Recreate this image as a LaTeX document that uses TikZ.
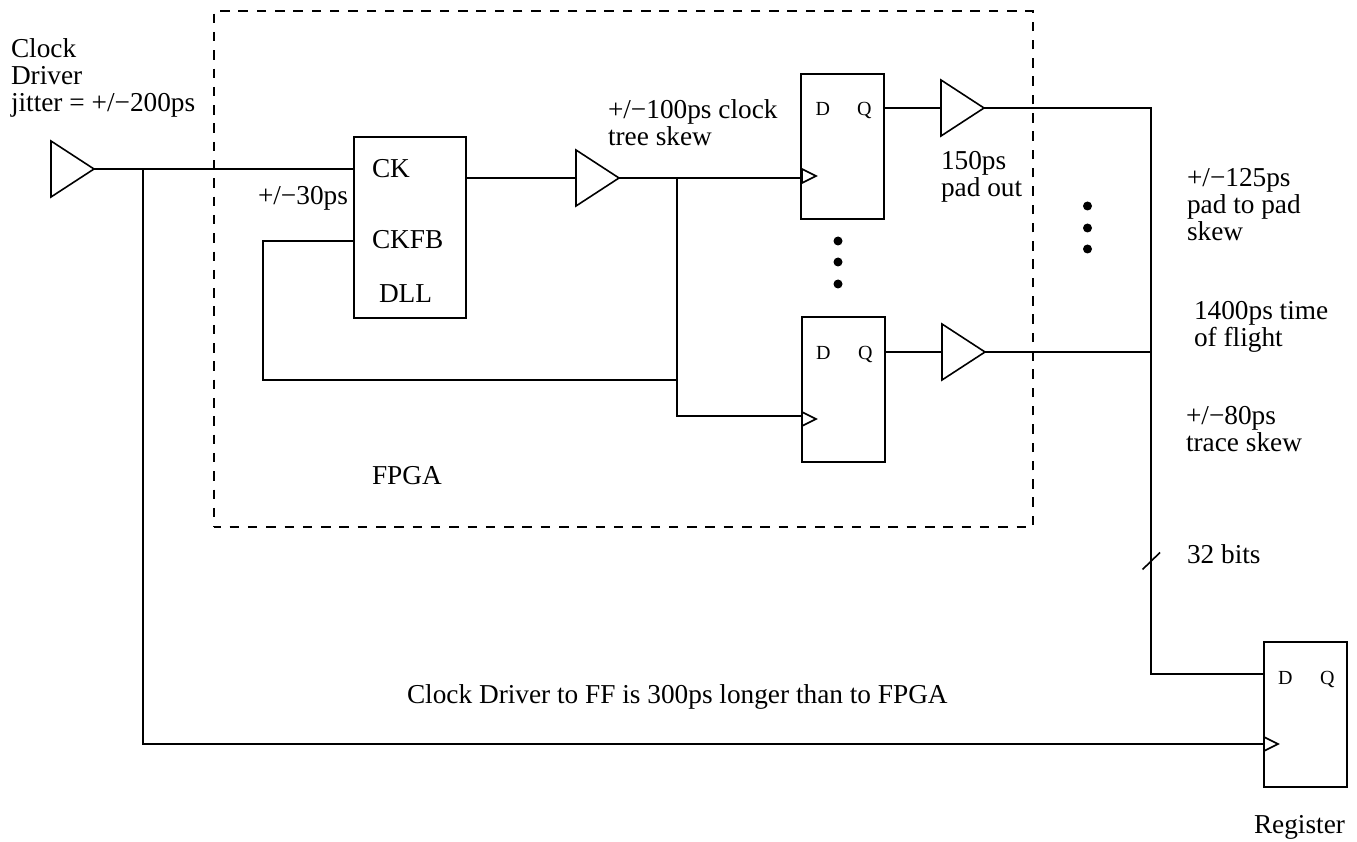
\documentclass[tikz,border=0pt]{standalone}
\usepackage{fontspec}
\setmainfont{Liberation Serif}
\usetikzlibrary{shapes.geometric,positioning}
\tikzset{
	x=1pt,
	y=-1pt,
	every node/.style={inner sep=0pt, outer sep=0pt},
	wire/.style={line width=1.6pt},
	block/.style={draw, rectangle, line width=1.6pt},
	flop/.style={block, minimum width=83pt, minimum height=145pt},
	buf/.style={draw, line width=1.6pt, isosceles triangle, isosceles triangle stretches, anchor=lower side,
		minimum width=56pt, minimum height=43pt},
	clkmark/.style={draw, line width=1.6pt, isosceles triangle, isosceles triangle stretches, anchor=lower side,
		minimum width=14pt, minimum height=14pt},
	dot/.style={circle, fill=black, minimum size=9pt},
	lbl/.style={anchor=base west, align=left, font=\fontsize{27.3}{27}\selectfont},
	pin/.style={anchor=base west, font=\fontsize{20}{20}\selectfont},
}
\begin{document}
\begin{tikzpicture}
      \useasboundingbox (0,0) rectangle (1357,842);

      % the chip outline goes first, the wires cross it
      \node[block, dash pattern=on 9.5pt off 8.8pt, dash phase=2.7pt, minimum width=819pt, minimum height=516pt] (fpga) at (623.5,269) {};

      \node[buf] (drv) at (51,169) {};
      \node[block, minimum width=112pt, minimum height=181pt] (dll) at (410,227.5) {};
      \node[buf] (tree) at (576,178) {};

      \node[flop] (ffa) at (842.5,146.5) {};
      \node[flop] (ffb) at (843.5,389.5) {};
      \node[flop] (reg) at (1305.5,714.5) {};
      \node[clkmark] (ffaclk) at (802,176) {};
      \node[clkmark] (ffbclk) at (802,419) {};
      \node[clkmark] (regclk) at (1264,744) {};

      \node[buf] (pada) at (941,108) {};
      \node[buf] (padb) at (942,352) {};

      \foreach \y [count=\i] in {241,262,284} {
        \node[dot] (fdot\i) at (838,\y) {};
      }
      \foreach \y [count=\i] in {206,228,249} {
        \node[dot] (pdot\i) at (1087.5,\y) {};
      }

      \coordinate (drvtap) at (143,169);
      \coordinate (fbin) at (354,241);
      \coordinate (fbcorner) at (263,380);
      \coordinate (treetap) at (677,178);
      \coordinate (ffbin) at (802,416);
      \coordinate (busa) at (1151,108);
      \coordinate (regd) at (1264,674);
      \coordinate (ticka) at (1142.5,569.5);
      \coordinate (tickb) at (1160,552.5);

      \draw[wire] (drv.apex) -- (drv.apex -| dll.west);
      \draw[wire] (drvtap) |- (regclk.lower side);
      \draw[wire] (tree.lower side -| dll.east) -- (tree.lower side);
      \draw[wire] (tree.apex) -- (tree.apex -| ffa.west);
      \draw[wire] (treetap) |- (ffbin);
      \draw[wire] (fbin) -| (fbcorner) -- (fbcorner -| treetap);
      \draw[wire] (pada.lower side -| ffa.east) -- (pada.lower side);
      \draw[wire] (padb.lower side -| ffb.east) -- (padb.lower side);
      \draw[wire] (pada.apex) -- (busa) |- (regd);
      \draw[wire] (padb.apex) -- (padb.apex -| busa);
      \draw[wire] (ticka) -- (tickb);

      \node[lbl] (drvtxt) at (11,112) {Clock\\Driver\\jitter = +/−200ps};
      \node[lbl] (dlltxt) at (258,205) {+/−30ps};
      \node[lbl] (cktxt) at (372,178) {CK};
      \node[lbl] (fbtxt) at (372,249) {CKFB};
      \node[lbl] (dllname) at (379,302) {DLL};
      \node[lbl] (treetxt) at (608,146) {+/−100ps clock\\tree skew};
      \node[lbl] (padtxt) at (941,197) {150ps\\pad out};
      \node[lbl] (fpganame) at (372,484) {FPGA};
      \node[lbl] (skewtxt) at (1187,241) {+/−125ps\\pad to pad\\skew};
      \node[lbl] (flighttxt) at (1194,346) {1400ps time\\of flight};
      \node[lbl] (tracetxt) at (1186,451) {+/−80ps\\trace skew};
      \node[lbl] (bitstxt) at (1187,563) {32 bits};
      \node[lbl] (longtxt) at (407,703) {Clock Driver to FF is 300ps longer than to FPGA};
      \node[lbl] (regname) at (1254,833) {Register};

      \node[pin] (ffad) at (815.5,116) {D};
      \node[pin] (ffaq) at (857,116) {Q};
      \node[pin] (ffbd) at (816,359) {D};
      \node[pin] (ffbq) at (858,359) {Q};
      \node[pin] (regdt) at (1278,684) {D};
      \node[pin] (regq) at (1320,684) {Q};
    \end{tikzpicture}
\end{document}
